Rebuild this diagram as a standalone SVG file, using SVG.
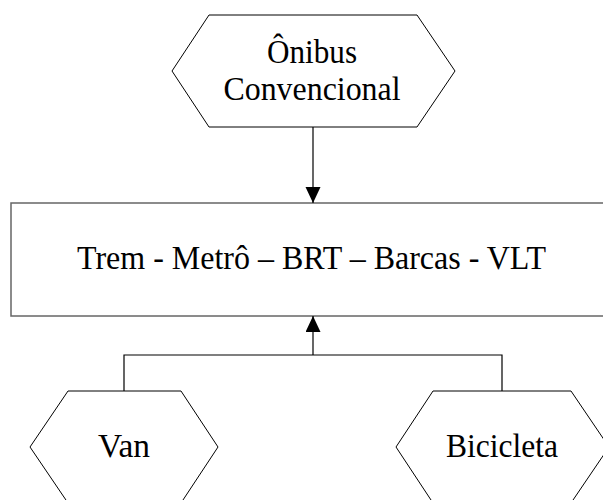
<svg xmlns="http://www.w3.org/2000/svg" width="603" height="500" viewBox="0 0 603 500">
<style>
.hex{fill:#fff;stroke:#000;stroke-width:1}
.box{fill:#fff;stroke:#666;stroke-width:1.5}
.lbl{font-family:"Liberation Serif","Times New Roman",serif;font-size:33px;fill:#000;text-anchor:middle}
.con{fill:none;stroke:#000;stroke-width:1.2}
</style>
<defs>
<marker id="arr" markerUnits="userSpaceOnUse" markerWidth="16" markerHeight="16" refX="16" refY="7.5" orient="auto">
<path d="M0,0 L16,7.5 L0,15 Z" fill="#000"/>
</marker>
</defs>
<rect width="603" height="500" fill="#fff"/>
<g id="onibus">
<polygon class="hex" points="209,15 417,15 455,71 417,127 209,127 172,71"/>
<text class="lbl" x="312" y="63" textLength="90" lengthAdjust="spacingAndGlyphs">Ônibus</text>
<text class="lbl" x="312" y="100" textLength="177" lengthAdjust="spacingAndGlyphs">Convencional</text>
</g>
<g id="trem">
<rect class="box" x="11" y="203" width="604" height="113"/>
<text class="lbl" x="311.5" y="269" textLength="469" lengthAdjust="spacingAndGlyphs">Trem - Metrô – BRT – Barcas - VLT</text>
</g>
<g id="van">
<polygon class="hex" points="68,391 181,391 218,447 181,503 68,503 30,447"/>
<text class="lbl" x="124" y="457" textLength="52" lengthAdjust="spacingAndGlyphs">Van</text>
</g>
<g id="bicicleta">
<polygon class="hex" points="433,391 571,391 609,447 571,503 433,503 396,447"/>
<text class="lbl" x="502" y="457" textLength="112" lengthAdjust="spacingAndGlyphs">Bicicleta</text>
</g>
<g id="connectors">
<line class="con" x1="313" y1="127" x2="313" y2="203" marker-end="url(#arr)"/>
<polyline class="con" points="124,391 124,355 502,355 502,391"/>
<line class="con" x1="313" y1="355" x2="313" y2="316" stroke-width="1.8" marker-end="url(#arr)"/>
</g>
</svg>
